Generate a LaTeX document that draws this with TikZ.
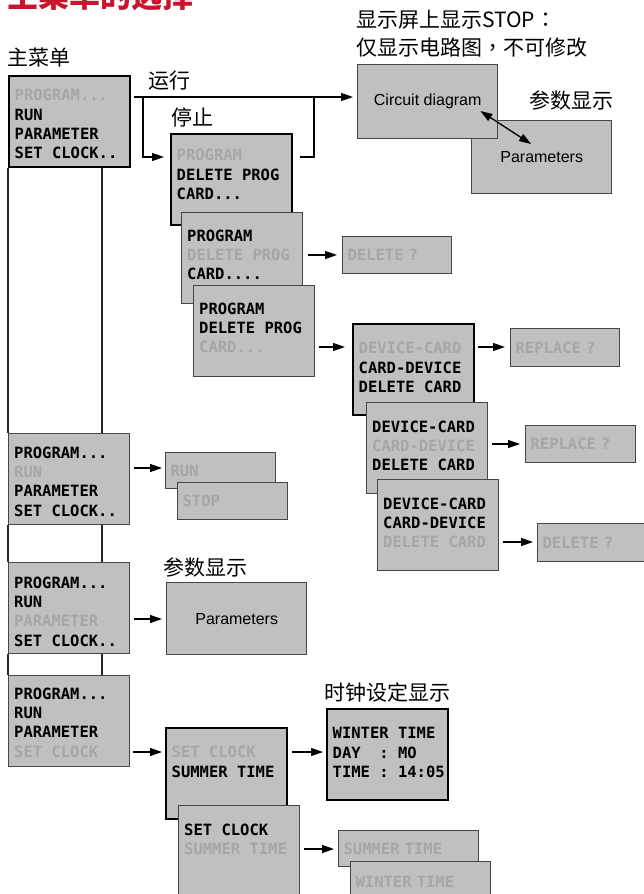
\documentclass[tikz,border=0pt]{standalone}
\usepackage{fontspec}
\setmainfont{Liberation Sans}
\newfontfamily\cjk{Noto Sans CJK SC}
\newfontfamily\cjktc{Noto Sans CJK TC}
\newfontfamily\lcdface{DejaVu Sans Mono}
\usetikzlibrary{arrows.meta,calc}
\definecolor{lcdfill}{RGB}{192,192,192}
\definecolor{dimtext}{RGB}{166,166,166}
\definecolor{edgegray}{RGB}{70,70,70}
\definecolor{titlered}{RGB}{200,20,45}
\newcommand\lcdfont{\lcdface\bfseries\fontsize{15.5}{19.3}\selectfont}
\newcommand\dimt[1]{{\color{dimtext}#1}}
\newcommand\lcdtxt[2][24]{\parbox[c][91pt][t]{121pt}{\raggedright\lcdfont\leftskip=5.5pt\relax\vspace*{\dimexpr#1pt-7.86pt\relax}\strut#2}}
\tikzset{
  lcd/.style={draw=edgegray, line width=1.4pt, fill=lcdfill, inner sep=0pt, anchor=north west},
  sel/.style={lcd, draw=black, line width=2.4pt},
  small/.style={draw=edgegray, line width=1.3pt, fill=lcdfill, anchor=north west, inner xsep=5pt, inner ysep=0pt, align=left, font=\lcdfont, text=dimtext},
  view/.style={draw=edgegray, line width=1.4pt, fill=lcdfill, anchor=north west, inner sep=0pt, font=\fontsize{16}{18}\selectfont},
  arr/.style={line width=1.3pt, -{Triangle[length=12pt,width=8pt]}},
  conn/.style={line width=1.4pt, draw=black!85},
  lbl/.style={anchor=west, inner sep=0pt, font=\cjk\fontsize{21}{25}\selectfont},
}
\begin{document}
\begin{tikzpicture}[x=1pt,y=-1pt]
\useasboundingbox (0,0) rectangle (643,894);
\fill[white] (0,0) rectangle (643,894);

% title (cut off by the top edge, as in the reference)
\node[anchor=base west, inner sep=0pt, font=\cjk\bfseries\fontsize{31}{31}\selectfont, text=titlered] (title) at (7,8) {主菜单的选择};

% labels
\node[lbl] (tmain) at (7,58) {主菜单};
\node[lbl] (trun) at (148,80.5) {运行};
\node[lbl] (tstop) at (171,117.5) {停止};
\node[lbl] (tstopa) at (356,19.5) {显示屏上显示STOP{\cjktc ：}};
\node[lbl] (tstopb) at (356,47.5) {仅显示电路图{\cjktc ，}不可修改};
\node[lbl] (tpar1) at (529,100) {参数显示};
\node[lbl] (tpar2) at (163,567) {参数显示};
\node[lbl] (tclock) at (324,692) {时钟设定显示};

% main column
\node[sel] (main) at (8,75) {\lcdtxt[19]{\dimt{PROGRAM...}\\RUN\\PARAMETER\\SET CLOCK..}};
\node[lcd] (L2) at (8,433) {\lcdtxt[19]{PROGRAM...\\\dimt{RUN}\\PARAMETER\\SET CLOCK..}};
\node[lcd] (L3) at (8,562) {\lcdtxt[20]{PROGRAM...\\RUN\\\dimt{PARAMETER}\\SET CLOCK..}};
\node[lcd] (L4) at (8,675) {\lcdtxt[18]{PROGRAM...\\RUN\\PARAMETER\\\dimt{SET CLOCK}}};

\draw[conn] (main.south west) -- (L2.north west);
\draw[conn] (L2.south west) -- (L3.north west);
\draw[conn] (L3.south west) -- (L4.north west);
\draw[conn] ([xshift=94pt]main.south west) -- ([xshift=94pt]L2.north west);
\draw[conn] ([xshift=94pt]L2.south west) -- ([xshift=94pt]L3.north west);
\draw[conn] ([xshift=94pt]L3.south west) -- ([xshift=94pt]L4.north west);

% circuit diagram / parameters
\node[view, minimum width=140pt, minimum height=73pt] (par1) at (471,120) {Parameters};
\node[view, minimum width=140pt, minimum height=74pt] (circ) at (357,64) {Circuit diagram};
\draw[line width=1.3pt, {Triangle[length=12pt,width=8pt]}-{Triangle[length=12pt,width=8pt]}] ([shift={(-18,47)}]circ.north east) -- ([shift={(60,24)}]par1.north west);

% stop stack
\node[sel] (stop) at (170,133) {\lcdtxt[21]{\dimt{PROGRAM}\\DELETE PROG\\CARD...}};
\node[lcd] (s2) at (181,212) {\lcdtxt[23]{PROGRAM\\\dimt{DELETE PROG}\\CARD....}};
\node[lcd] (s3) at (193,285) {\lcdtxt[23]{PROGRAM\\DELETE PROG\\\dimt{CARD...}}};
\node[small, text width=99pt, minimum height=37pt] (del1) at (342,236) {DELETE ?};

% device/card stack
\node[sel] (d1) at (352,323) {\lcdtxt{\dimt{DEVICE-CARD}\\CARD-DEVICE\\DELETE CARD}};
\node[lcd] (d2) at (366,402) {\lcdtxt{DEVICE-CARD\\\dimt{CARD-DEVICE}\\DELETE CARD}};
\node[lcd] (d3) at (377,479) {\lcdtxt{DEVICE-CARD\\CARD-DEVICE\\\dimt{DELETE CARD}}};
\node[small, text width=99pt, minimum height=38pt] (rep1) at (510,328) {REPLACE ?};
\node[small, text width=100pt, minimum height=37pt] (rep2) at (525,425) {REPLACE ?};
\node[small, text width=110pt, minimum height=38pt] (del2) at (537,523) {DELETE ?};

% run / stop
\node[small, text width=100pt, minimum height=36pt] (run) at (165,452) {RUN};
\node[small, text width=100pt, minimum height=37pt] (stop2) at (177,482) {STOP};

% parameters
\node[view, minimum width=140pt, minimum height=72pt] (par2) at (166,582) {Parameters};

% set clock
\node[sel] (sc1) at (165,727) {\lcdtxt{\dimt{SET CLOCK}\\SUMMER TIME}};
\node[lcd] (sc2) at (178,805) {\lcdtxt{SET CLOCK\\\dimt{SUMMER TIME}}};
\node[sel] (wt) at (326,708) {\lcdtxt{WINTER TIME\\DAY\ \ : MO\\TIME : 14:05}};
\node[small, text width=130pt, minimum height=36pt] (st) at (338,830) {SUMMER TIME};
\node[small, text width=130pt, minimum height=40pt] (wt2) at (350,861) {WINTER TIME};

% connectors
\coordinate (b1) at (143,97);
\coordinate (b2) at (314,97);
\draw[arr] ([shift={(3,22)}]main.north east) -- ([shift={(-4,33)}]circ.north west);
\draw[arr] (b1) |- ([shift={(-6,24)}]stop.north west);
\draw[line width=1.3pt] ([shift={(7,24)}]stop.north east) -| (b2);
\draw[arr] ([shift={(5,43)}]s2.north east) -- ([shift={(-5,19)}]del1.north west);
\draw[arr] ([shift={(4,62)}]s3.north east) -- ([shift={(-7,24)}]d1.north west);
\draw[arr] ([shift={(3,24)}]d1.north east) -- ([shift={(-5,19)}]rep1.north west);
\draw[arr] ([shift={(4,42)}]d2.north east) -- ([shift={(-5,19)}]rep2.north west);
\draw[arr] ([shift={(4,63)}]d3.north east) -- ([shift={(-4,19)}]del2.north west);
\draw[arr] ([shift={(4,35)}]L2.north east) -- ([shift={(-3,16)}]run.north west);
\draw[arr] ([shift={(4,57)}]L3.north east) -- ([shift={(-4,37)}]par2.north west);
\draw[arr] ([shift={(3,77)}]L4.north east) -- ([shift={(-3,25)}]sc1.north west);
\draw[arr] ([shift={(4,25)}]sc1.north east) -- ([shift={(-3,44)}]wt.north west);
\draw[arr] ([shift={(4,44)}]sc2.north east) -- ([shift={(-4,19)}]st.north west);
\end{tikzpicture}
\end{document}
